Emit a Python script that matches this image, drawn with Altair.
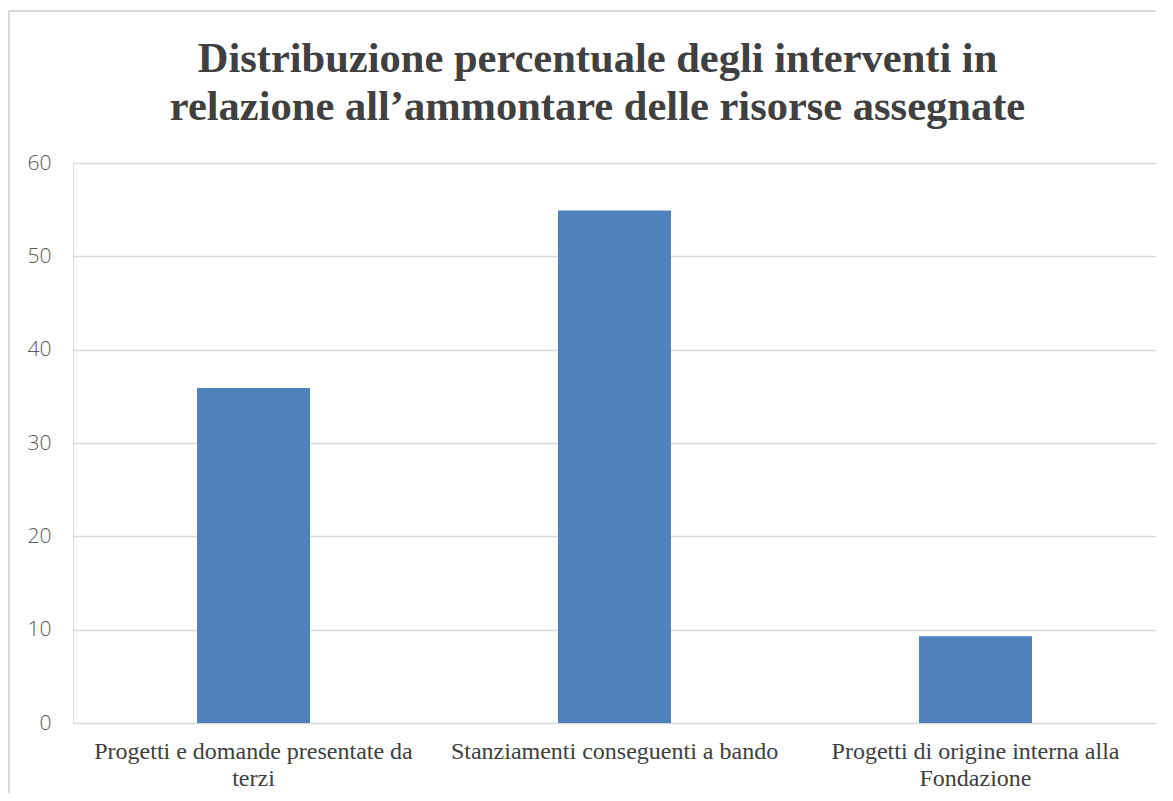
import altair as alt
import pandas as pd

categories = [
    "Progetti e domande presentate da terzi",
    "Stanziamenti conseguenti a bando",
    "Progetti di origine interna alla Fondazione",
]
values = [35.9, 54.9, 9.3]
label_lines = [
    ["Progetti e domande presentate da", "terzi"],
    ["Stanziamenti conseguenti a bando"],
    ["Progetti di origine interna alla", "Fondazione"],
]
y_ticks = [0, 10, 20, 30, 40, 50, 60]
title_lines = [
    "Distribuzione percentuale degli interventi in",
    "relazione all\u2019ammontare delle risorse assegnate",
]

df = pd.DataFrame({"categoria": categories, "valore": values})

# build a label expression mapping each category to its wrapped lines
expr = "''"
for cat, lines in reversed(list(zip(categories, label_lines))):
    arr = "[" + ",".join("'" + l + "'" for l in lines) + "]"
    expr = f"datum.value == '{cat}' ? {arr} : ({expr})"

W, H = 1083, 560

bars = alt.Chart(df).mark_bar(color="#4F81BD").encode(
    x=alt.X(
        "categoria:N",
        sort=categories,
        title=None,
        scale=alt.Scale(paddingInner=0.687, paddingOuter=0.3435),
        axis=alt.Axis(
            labelExpr=expr,
            labelAngle=0,
            labelFont="Liberation Serif",
            labelFontSize=24,
            labelColor="#404040",
            labelLineHeight=27,
            labelPadding=16,
            ticks=False,
            domain=False,
            grid=False,
            labelLimit=400,
        ),
    ),
    y=alt.Y(
        "valore:Q",
        title=None,
        scale=alt.Scale(domain=[0, 60], nice=False),
        axis=alt.Axis(
            values=y_ticks,
            labelFont="Open Sans",
            labelFontSize=21,
            labelFontWeight=300,
            labelColor="#595959",
            labelPadding=22,
            ticks=False,
            domain=False,
            gridColor="#D9D9D9",
            gridWidth=1.3,
        ),
    ),
)

# light frame around the chart (left and top edges visible in the reference)
frame_left = alt.Chart(df).mark_rule(color="#D9D9D9", strokeWidth=1.5).encode(
    x=alt.value(-64), x2=alt.value(-64), y=alt.value(-152), y2=alt.value(H + 100)
)
frame_top = alt.Chart(df).mark_rule(color="#D9D9D9", strokeWidth=1.5).encode(
    x=alt.value(-64), x2=alt.value(W + 50), y=alt.value(-152), y2=alt.value(-152)
)

chart = (
    alt.layer(frame_left, frame_top, bars)
    .properties(
        width=W,
        height=H,
        autosize=alt.AutoSizeParams(type="none"),
        padding={"left": 65, "top": 155, "right": 0, "bottom": 70},
        title=alt.TitleParams(
            text=title_lines,
            font="Liberation Serif",
            fontSize=42.5,
            fontWeight="bold",
            color="#404040",
            lineHeight=48,
            anchor="middle",
            frame="group",
            dx=-17,
            offset=0,
            dy=118,
        ),
    )
    .configure_view(stroke=None)
    .configure(background="white")
)

chart.save("out.html", embed_options={"renderer": "svg", "actions": False})
